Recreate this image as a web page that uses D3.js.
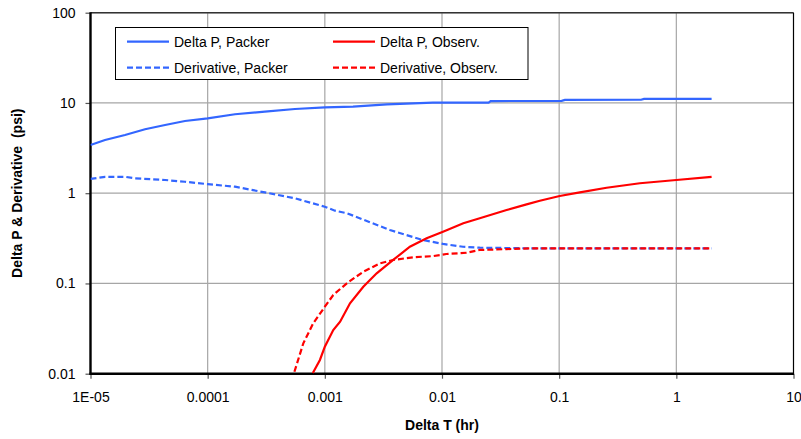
<!DOCTYPE html>
<html>
<head>
<meta charset="utf-8">
<script src="https://cdn.jsdelivr.net/npm/d3@7"></script>
<style>
  body { margin: 0; background: #fff; }
  svg { display: block; font-family: "Liberation Sans", Arial, sans-serif; }
</style>
</head>
<body>
<svg id="chart"></svg>
<script>
// tick labels
const xTicks = [1e-5, 1e-4, 1e-3, 1e-2, 1e-1, 1, 10];
const xTickLabels = ["1E-05", "0.0001", "0.001", "0.01", "0.1", "1", "10"];
const yTicks = [0.01, 0.1, 1, 10, 100];
const yTickLabels = ["0.01", "0.1", "1", "10", "100"];

// series: [Delta T (hr), value (psi)]
const deltaPPacker = [
  [1e-5, 3.42], [1.33e-5, 3.89], [1.97e-5, 4.41], [2.92e-5, 5.11], [4.33e-5, 5.70],
  [6.4e-5, 6.31], [1.0e-4, 6.76], [1.71e-4, 7.49], [3.08e-4, 8.0], [5.56e-4, 8.57],
  [1.0e-3, 8.95], [1.74e-3, 9.09], [3.39e-3, 9.66], [8.36e-3, 10.06], [0.025, 10.1],
  [0.026, 10.5], [0.105, 10.55], [0.112, 10.8], [0.5, 10.85], [0.53, 11.1], [2.0, 11.1]
];
const derivPacker = [
  [1e-5, 1.44], [1.33e-5, 1.52], [1.97e-5, 1.52], [2.4e-5, 1.46], [4.33e-5, 1.40],
  [6.4e-5, 1.34], [1.0e-4, 1.26], [1.71e-4, 1.18], [3.08e-4, 1.02], [5.56e-4, 0.878],
  [1.0e-3, 0.708], [1.22e-3, 0.64], [1.55e-3, 0.599], [3.59e-3, 0.391], [6.87e-3, 0.303],
  [0.0102, 0.274], [0.0151, 0.255], [0.021, 0.249], [0.056, 0.245], [2.0, 0.245]
];
const deltaPObserv = [
  [7.9e-4, 0.0102], [9.08e-4, 0.0142], [1.0e-3, 0.0199], [1.18e-3, 0.0305], [1.35e-3, 0.0377],
  [1.64e-3, 0.0603], [2.13e-3, 0.092], [2.77e-3, 0.1296], [3.83e-3, 0.182], [5.32e-3, 0.255],
  [7.39e-3, 0.316], [0.0102, 0.374], [0.0152, 0.464], [0.021, 0.527], [0.0356, 0.651],
  [0.0527, 0.753], [0.0684, 0.826], [0.101, 0.931], [0.150, 1.02], [0.254, 1.15],
  [0.488, 1.29], [1.0, 1.40], [2.0, 1.52]
];
const derivObserv = [
  [5.5e-4, 0.0105], [6.55e-4, 0.0217], [7.96e-4, 0.0362], [1.0e-3, 0.0552], [1.18e-3, 0.0745],
  [1.54e-3, 0.1004], [2.13e-3, 0.135], [2.95e-3, 0.167], [3.83e-3, 0.182], [5.68e-3, 0.195],
  [8.41e-3, 0.201], [0.0109, 0.212], [0.0162, 0.219], [0.021, 0.235], [0.0356, 0.240],
  [0.0562, 0.245], [2.0, 0.245]
];

const seriesNames = ["Delta P, Packer", "Delta P, Observ.", "Derivative, Packer", "Derivative, Observ."];

const width = 801, height = 439;
const plotLeft = 90.5, plotRight = 793.5, plotTop = 12.7, plotBottom = 373.7;
const blue = "#3366ff", red = "#ff0000";

const svg = d3.select("#chart").attr("width", width).attr("height", height);

const x = d3.scaleLog().domain([1e-5, 10]).range([plotLeft, plotRight]);
const y = d3.scaleLog().domain([0.01, 100]).range([plotBottom, plotTop]);

// сетка
svg.append("g").selectAll("line").data(xTicks.slice(1, -1)).enter().append("line")
  .attr("x1", d => x(d)).attr("x2", d => x(d)).attr("y1", plotTop).attr("y2", plotBottom)
  .attr("stroke", "#a6a6a6").attr("stroke-width", 1.2);
svg.append("g").selectAll("line").data(yTicks.slice(1)).enter().append("line")
  .attr("x1", plotLeft).attr("x2", plotRight).attr("y1", d => y(d)).attr("y2", d => y(d))
  .attr("stroke", "#a6a6a6").attr("stroke-width", 1.2);

// рамка сверху и справа
svg.append("line").attr("x1", plotLeft).attr("x2", plotRight).attr("y1", plotTop).attr("y2", plotTop)
  .attr("stroke", "#333").attr("stroke-width", 1.5);
svg.append("line").attr("x1", plotRight).attr("x2", plotRight).attr("y1", plotTop).attr("y2", plotBottom)
  .attr("stroke", "#000").attr("stroke-width", 1.2);

// оси
const xAxis = d3.axisBottom(x).tickValues(xTicks).tickSize(5).tickPadding(13)
  .tickFormat((d, i) => xTickLabels[i]);
const gx = svg.append("g").attr("transform", `translate(0,${plotBottom})`).call(xAxis);
gx.select(".domain").remove();
gx.selectAll("line").attr("stroke", "#555").attr("stroke-width", 1.2);
gx.selectAll("text").attr("fill", "#000").style("font-size", "14px");

const yAxis = d3.axisLeft(y).tickValues(yTicks).tickSize(5).tickPadding(10)
  .tickFormat((d, i) => yTickLabels[i]);
const gy = svg.append("g").attr("transform", `translate(${plotLeft},0)`).call(yAxis);
gy.select(".domain").remove();
gy.selectAll("line").attr("stroke", "#555").attr("stroke-width", 1.2);
gy.selectAll("text").attr("fill", "#000").style("font-size", "14px");

svg.append("line").attr("x1", plotLeft).attr("x2", plotLeft).attr("y1", plotTop - 0.5).attr("y2", plotBottom + 1)
  .attr("stroke", "#000").attr("stroke-width", 2.4);
svg.append("line").attr("x1", plotLeft - 1).attr("x2", plotRight + 0.5).attr("y1", plotBottom).attr("y2", plotBottom)
  .attr("stroke", "#000").attr("stroke-width", 2.4);

// обрезка по области графика
svg.append("clipPath").attr("id", "plotClip").append("rect")
  .attr("x", plotLeft).attr("y", plotTop).attr("width", plotRight - plotLeft).attr("height", plotBottom - plotTop);

const line = d3.line().x(d => x(d[0])).y(d => y(d[1]));
const plot = svg.append("g").attr("clip-path", "url(#plotClip)");

const series = [
  { data: derivPacker, color: blue, dash: "6,3" },
  { data: deltaPPacker, color: blue, dash: null },
  { data: deltaPObserv, color: red, dash: null },
  { data: derivObserv, color: red, dash: "6,3" }
];
series.forEach(s => {
  plot.append("path").datum(s.data).attr("d", line)
    .attr("fill", "none").attr("stroke", s.color).attr("stroke-width", 2.2)
    .attr("stroke-dasharray", s.dash);
});

// легенда
const lg = svg.append("g");
lg.append("rect").attr("x", 115.5).attr("y", 27.5).attr("width", 412.5).attr("height", 52)
  .attr("fill", "#fff").attr("stroke", "#000").attr("stroke-width", 1);
const legendItems = [
  { name: seriesNames[0], color: blue, dash: null, lx: 127, ly: 41.7 },
  { name: seriesNames[1], color: red, dash: null, lx: 333, ly: 41.7 },
  { name: seriesNames[2], color: blue, dash: "6,3", lx: 127, ly: 67.7 },
  { name: seriesNames[3], color: red, dash: "6,3", lx: 333, ly: 67.7 }
];
legendItems.forEach(it => {
  lg.append("line").attr("x1", it.lx).attr("x2", it.lx + 42).attr("y1", it.ly).attr("y2", it.ly)
    .attr("stroke", it.color).attr("stroke-width", 2.2).attr("stroke-dasharray", it.dash);
  lg.append("text").attr("x", it.lx + 47).attr("y", it.ly + 5)
    .style("font-size", "14px").text(it.name);
});

// подписи осей
svg.append("text").attr("x", (plotLeft + plotRight) / 2).attr("y", 430)
  .attr("text-anchor", "middle").style("font-size", "14px").style("font-weight", "bold")
  .text("Delta T (hr)");
svg.append("text").attr("transform", `translate(22,${(plotTop + plotBottom) / 2}) rotate(-90)`)
  .attr("text-anchor", "middle").style("font-size", "14px").style("font-weight", "bold")
  .style("white-space", "pre").text("Delta P & Derivative  (psi)");
</script>
</body>
</html>
